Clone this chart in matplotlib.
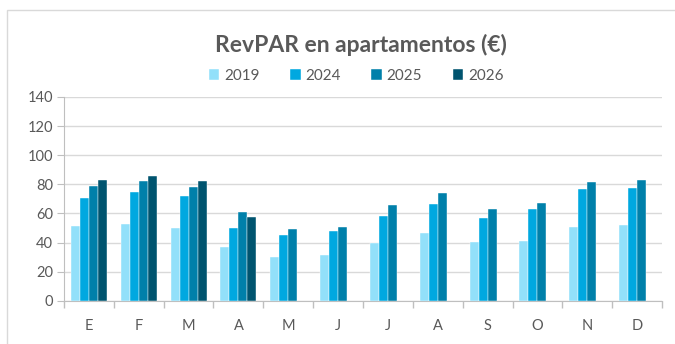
import numpy as np
import matplotlib.pyplot as plt
from matplotlib.patches import Rectangle

plt.rcParams['font.family'] = ['Lato', 'DejaVu Sans']

meses = ['E', 'F', 'M', 'A', 'M', 'J', 'J', 'A', 'S', 'O', 'N', 'D']
anios = ['2019', '2024', '2025', '2026']
v2019 = [51.2, 52.4, 50.0, 37.2, 29.7, 31.5, 39.5, 46.2, 40.2, 40.9, 50.8, 51.7]
v2024 = [70.6, 74.5, 71.7, 50.3, 45.3, 47.6, 57.9, 66.2, 57.0, 62.7, 77.0, 77.2]
v2025 = [78.6, 82.3, 78.0, 60.7, 49.2, 50.8, 65.5, 74.3, 62.7, 67.0, 81.4, 83.2]
v2026 = [83.2, 86.0, 82.3, 57.2] + [np.nan] * 8
colores = ['#92E0FA', '#00A8E0', '#0080AA', '#00546F']

gris = '#595959'
fig = plt.figure(figsize=(6.75, 3.44), dpi=100)
fig.patches.append(Rectangle((7 / 675, -0.1), 1, 1 - 10 / 344 + 0.1, transform=fig.transFigure,
                             fill=False, edgecolor='#D9D9D9', linewidth=1))
ax = fig.add_axes([64 / 675, 1 - 300.7 / 344, (662 - 64) / 675, (300.7 - 97) / 344])

x = np.arange(len(meses))
w = 0.18
for i, (serie, c) in enumerate(zip([v2019, v2024, v2025, v2026], colores)):
    ax.bar(x + (i - 1.5) * w, serie, w, color=c, edgecolor='white', linewidth=0.3,
           label=anios[i], zorder=3)

ax.set_xlim(-0.5, len(meses) - 0.5)
ax.set_ylim(0, 140)
ax.set_yticks(range(0, 141, 20))
ax.set_xticks(x)
ax.set_xticklabels(meses)
ax.set_xticks(np.arange(-0.5, len(meses), 1), minor=True)
ax.tick_params(axis='x', which='major', length=0, pad=13, labelsize=10.5, labelcolor=gris)
ax.tick_params(axis='x', which='minor', length=5, color='#BFBFBF', width=1)
ax.tick_params(axis='y', length=5, color='#BFBFBF', labelsize=10.5, labelcolor=gris, pad=3)
ax.grid(axis='y', color='#D9D9D9', linewidth=1, zorder=0)
for s in ['top', 'right']:
    ax.spines[s].set_visible(False)
for s in ['left', 'bottom']:
    ax.spines[s].set_color('#BFBFBF')

fig.text(361 / 675, 1 - 45 / 344, 'RevPAR en apartamentos (€)', ha='center', va='center',
         fontsize=16.5, fontweight='bold', color=gris)
fig.legend(loc='center', bbox_to_anchor=(356 / 675, 1 - 76 / 344), ncol=4, frameon=False,
           handlelength=0.7, handleheight=0.7, handletextpad=0.3, columnspacing=2.0,
           fontsize=11, labelcolor=gris)

fig.savefig('out.png', dpi=100)
